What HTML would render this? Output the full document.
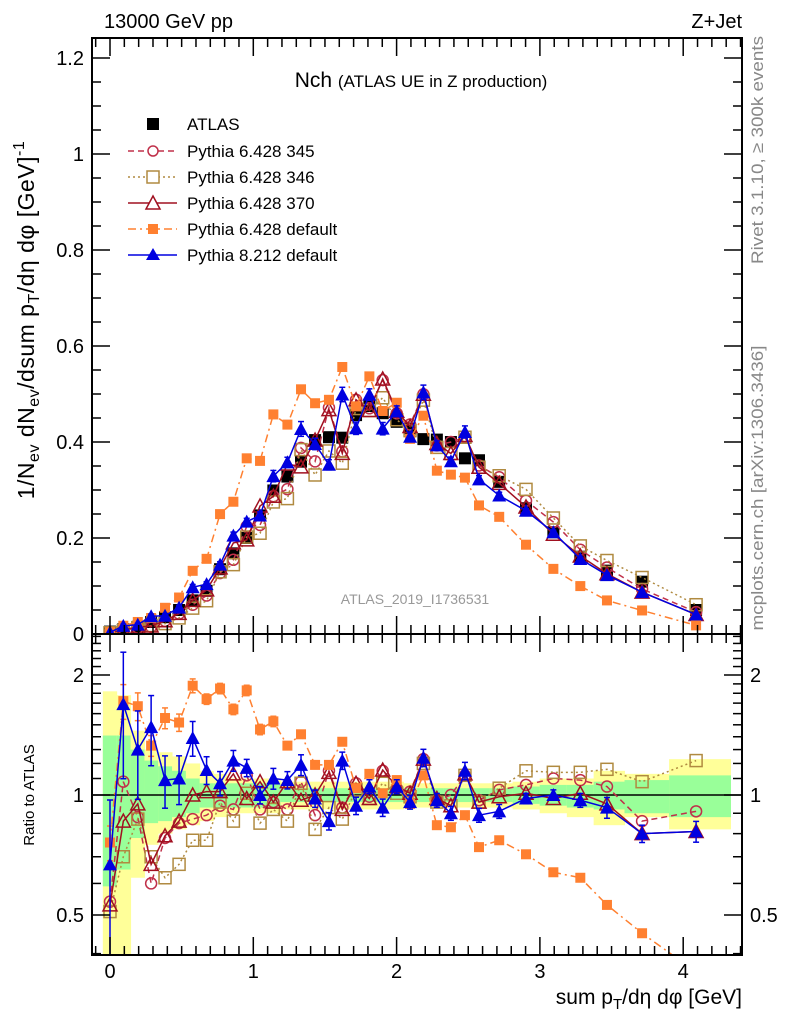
<!DOCTYPE html>
<html><head><meta charset="utf-8"><style>
body{margin:0;background:#fff;}
svg{display:block;font-family:"Liberation Sans",sans-serif;}
</style></head><body>
<svg id="c" width="786" height="1024" xmlns="http://www.w3.org/2000/svg"></svg>
<script>
const xs=[0,0.093,0.194,0.287,0.384,0.482,0.577,0.674,0.768,0.861,0.954,1.047,1.140,1.238,1.333,1.431,1.528,1.621,1.717,1.810,1.903,2.001,2.094,2.187,2.281,2.379,2.477,2.575,2.716,2.903,3.094,3.282,3.468,3.713,4.090];
const atlas=[0.005,0.01,0.015,0.025,0.035,0.05,0.07,0.09,0.135,0.168,0.2,0.247,0.299,0.328,0.359,0.404,0.41,0.409,0.456,0.475,0.46,0.442,0.428,0.406,0.405,0.4,0.366,0.362,0.317,0.262,0.212,0.161,0.132,0.109,0.05];
const rP345=[0.54,1.08,0.88,0.60,0.78,0.85,0.87,0.89,0.94,0.92,1.12,0.92,0.96,0.92,1.08,0.89,1.15,0.93,1.07,0.99,1.15,1.04,1.02,1.23,0.97,1.0,1.12,0.97,1.03,1.06,1.10,1.09,1.05,0.86,0.91];
const rP346=[0.51,0.70,0.87,0.70,0.62,0.67,0.77,0.77,0.96,0.86,1.01,0.85,0.92,0.86,1.07,0.82,0.93,0.87,1.03,0.98,1.07,1.01,0.99,1.2,0.96,0.94,1.12,0.96,1.04,1.15,1.14,1.14,1.16,1.08,1.22];
const rP370=[0.53,0.86,0.95,0.67,0.79,0.86,1.0,1.02,1.02,1.13,0.98,1.08,0.96,1.08,0.97,1.0,1.14,0.92,1.07,0.98,1.155,1.05,1.01,1.23,0.98,0.94,1.13,0.96,0.99,1.01,0.98,1.01,0.95,0.80,0.81];
const rP6def=[0.76,1.72,1.67,1.33,1.56,1.52,1.88,1.74,1.85,1.64,1.83,1.46,1.53,1.33,1.42,1.19,1.19,1.36,1.04,1.13,1.01,1.09,0.95,1.12,0.84,0.83,0.89,0.74,0.77,0.71,0.64,0.62,0.53,0.45,0.36];
const rP8=[0.67,1.69,1.30,1.48,1.09,1.10,1.39,1.155,1.07,1.22,1.17,1.0,1.10,1.09,1.19,0.98,0.86,1.22,0.94,1.05,0.93,1.05,0.96,1.24,0.97,0.90,1.15,0.89,0.91,0.98,1.0,0.97,0.93,0.80,0.81];
const errP8=[0.45,0.35,0.25,0.2,0.15,0.14,0.1,0.08,0.07,0.06,0.05,0.05,0.06,0.05,0.06,0.05,0.05,0.05,0.05,0.04,0.05,0.04,0.04,0.05,0.04,0.04,0.05,0.04,0.04,0.03,0.03,0.04,0.06,0.05,0.06];
const errP6=[0.1,0.1,0.08,0.06,0.06,0.05,0.04,0.03,0.03,0.03,0.03,0.03,0.03,0.02,0.02,0.02,0.02,0.02,0.02,0.02,0.02,0.02,0.02,0.02,0.02,0.02,0.02,0.02,0.02,0.02,0.02,0.02,0.02,0.02,0.02];
const yelHi=[1.82,1.78,1.45,1.3,1.28,1.25,1.2,1.15,1.13,1.1,1.1,1.1,1.1,1.08,1.08,1.08,1.08,1.08,1.08,1.08,1.08,1.08,1.07,1.07,1.07,1.07,1.07,1.07,1.07,1.08,1.1,1.1,1.15,1.13,1.23];
const yelLo=[0.38,0.38,0.62,0.75,0.8,0.82,0.84,0.86,0.88,0.9,0.9,0.9,0.9,0.92,0.92,0.92,0.92,0.92,0.92,0.92,0.92,0.92,0.93,0.93,0.93,0.93,0.93,0.93,0.93,0.92,0.9,0.88,0.84,0.88,0.82];
const grnHi=[1.41,1.41,1.3,1.22,1.18,1.15,1.1,1.07,1.07,1.07,1.07,1.07,1.07,1.04,1.04,1.04,1.04,1.04,1.04,1.04,1.04,1.04,1.04,1.04,1.04,1.04,1.04,1.04,1.04,1.05,1.06,1.06,1.08,1.09,1.12];
const grnLo=[0.59,0.65,0.78,0.85,0.86,0.88,0.9,0.93,0.93,0.93,0.93,0.93,0.93,0.96,0.96,0.96,0.96,0.96,0.96,0.96,0.96,0.96,0.96,0.96,0.96,0.96,0.96,0.96,0.96,0.95,0.94,0.93,0.92,0.9,0.88];
const mainTicks=[0,0.2,0.4,0.6,0.8,1,1.2];
const mainTickLabels=["0","0.2","0.4","0.6","0.8","1","1.2"];
const xTicks=[0,1,2,3,4];
const ratioTicks=[0.5,1,2];
const ratioTickLabels=["0.5","1","2"];

const L=92,R=742,T=38,MB=634,RB=955;
const X=v=>110+v*143.3;
const Y=v=>634-v*480;
const RY=v=>795-Math.log2(v)*120;
const svg=document.getElementById('c');
const NS='http://www.w3.org/2000/svg';
function el(tag,attrs,parent){const e=document.createElementNS(NS,tag);for(const k in attrs)e.setAttribute(k,attrs[k]);(parent||svg).appendChild(e);return e;}
function txt(s,attrs,parent){const e=el('text',attrs,parent);e.textContent=s;return e;}

const defs=el('defs',{});
const cm=el('clipPath',{id:'cm'},defs);el('rect',{x:L,y:T,width:R-L,height:MB-T},cm);
const cr=el('clipPath',{id:'cr'},defs);el('rect',{x:L,y:MB,width:R-L,height:RB-MB},cr);

const gb=el('g',{'clip-path':'url(#cr)'});


for(let i=0;i<xs.length;i++){
  const x0=i==0?-0.05:(xs[i-1]+xs[i])/2, x1=i==xs.length-1?4.33:(xs[i]+xs[i+1])/2;
  const y=el('rect',{x:X(x0),y:RY(yelHi[i]),width:X(x1)-X(x0)+0.5,height:RY(yelLo[i])-RY(yelHi[i]),fill:'#ffff99'},gb);
  
  
  const g=el('rect',{x:X(x0),y:RY(grnHi[i]),width:X(x1)-X(x0)+0.5,height:RY(grnLo[i])-RY(grnHi[i]),fill:'#99ff99'},gb);
  
  
}
el('line',{x1:L,x2:R,y1:RY(1),y2:RY(1),stroke:'#000','stroke-width':1.5});

const series=[
 {name:'pythia-6428-345',r:rP345,color:'#c0304a',dash:'6,4',marker:'circle',label:'Pythia 6.428 345'},
 {name:'pythia-6428-346',r:rP346,color:'#b08a40',dash:'2,3',marker:'square-open',label:'Pythia 6.428 346'},
 {name:'pythia-6428-370',r:rP370,color:'#a01020',dash:'',marker:'tri-open',label:'Pythia 6.428 370'},
 {name:'pythia-6428-default',r:rP6def,color:'#ff8030',dash:'8,4,2,4',marker:'square',label:'Pythia 6.428 default',err:errP6},
 {name:'pythia-8212-default',r:rP8,color:'#0000e0',dash:'',marker:'tri',label:'Pythia 8.212 default',err:errP8},
];
function marker(type,x,y,color,parent,nm){
  let m;
  if(type=='circle')m=el('circle',{cx:x,cy:y,r:5.5,fill:'none',stroke:color,'stroke-width':1.5},parent);
  else if(type=='square-open')m=el('rect',{x:x-6,y:y-6,width:12,height:12,fill:'none',stroke:color,'stroke-width':1.5},parent);
  else if(type=='square')m=el('rect',{x:x-5,y:y-5,width:10,height:10,fill:color},parent);
  else if(type=='squareB')m=el('rect',{x:x-6,y:y-6,width:12,height:12,fill:'#000'},parent);
  else if(type=='tri-open')m=el('polygon',{points:`${x},${y-7} ${x-7},${y+6} ${x+7},${y+6}`,fill:'none',stroke:color,'stroke-width':1.5},parent);
  else m=el('polygon',{points:`${x},${y-7} ${x-7},${y+6} ${x+7},${y+6}`,fill:color},parent);
  
  
}
function drawSeries(s,panel){
  const g=el('g',{'clip-path':panel=='main'?'url(#cm)':'url(#cr)'});
  
  
  const yf=panel=='main'?(i=>Y(atlas[i]*s.r[i])):(i=>RY(s.r[i]));
  const pts=xs.map((x,i)=>X(x)+','+yf(i)).join(' ');
  const pl=el('polyline',{points:pts,fill:'none',stroke:s.color,'stroke-width':1.5,'stroke-dasharray':s.dash},g);
  
  
  xs.forEach((x,i)=>{
    if(s.err){
      let y1,y2;
      if(panel=='main'){const v=atlas[i]*s.r[i];y1=Y(v*(1+s.err[i]*0.6));y2=Y(v*(1-s.err[i]*0.6));}
      else{y1=RY(s.r[i]*(1+s.err[i]));y2=RY(Math.max(0.05,s.r[i]*(1-s.err[i])));}
      el('line',{x1:X(x),x2:X(x),y1:y1,y2:y2,stroke:s.color,'stroke-width':1.5},g);
      el('line',{x1:X(x)-3,x2:X(x)+3,y1:y1,y2:y1,stroke:s.color,'stroke-width':1.5},g);
      el('line',{x1:X(x)-3,x2:X(x)+3,y1:y2,y2:y2,stroke:s.color,'stroke-width':1.5},g);
    }
    marker(s.marker,X(x),yf(i),s.color,g,s.name+'-point');
  });
}
const ga=el('g',{'clip-path':'url(#cm)'});


xs.forEach((x,i)=>marker('squareB',X(x),Y(atlas[i]),'#000',ga,'atlas-point'));
series.forEach(s=>drawSeries(s,'main'));
series.forEach(s=>drawSeries(s,'ratio'));

el('rect',{x:L,y:T,width:R-L,height:MB-T,fill:'none',stroke:'#000','stroke-width':2});
el('rect',{x:L,y:MB,width:R-L,height:RB-MB,fill:'none',stroke:'#000','stroke-width':2});

for(let v=0;v<=1.25;v+=0.05){
  const maj=Math.abs(v/0.2-Math.round(v/0.2))<1e-6, len=maj?18:9, y=Y(v);
  if(y<T)continue;
  el('line',{x1:L,x2:L+len,y1:y,y2:y,stroke:'#000','stroke-width':1.5});
  el('line',{x1:R,x2:R-len,y1:y,y2:y,stroke:'#000','stroke-width':1.5});
}
mainTicks.forEach((v,i)=>{const t=txt(mainTickLabels[i],{x:84,y:Y(v)+7,'text-anchor':'end','font-size':20});
});
for(let k=4;k<=25;k++){
  const v=k/10; const y=RY(v); if(y<MB||y>RB)continue;
  const maj=(k==5||k==10||k==20), len=maj?18:9;
  el('line',{x1:L,x2:L+len,y1:y,y2:y,stroke:'#000','stroke-width':1.5});
  el('line',{x1:R,x2:R-len,y1:y,y2:y,stroke:'#000','stroke-width':1.5});
}
ratioTicks.forEach((v,i)=>{
  const a=txt(ratioTickLabels[i],{x:84,y:RY(v)+7,'text-anchor':'end','font-size':20});
  
  const b=txt(ratioTickLabels[i],{x:750,y:RY(v)+7,'text-anchor':'start','font-size':20});
  
});
for(let k=-1;k<=44;k++){
  const v=k/10, x=X(v); if(x<L||x>R)continue;
  const maj=k%10==0, len=maj?18:9;
  [[MB,1],[T,1],[RB,-1],[MB,-1]].forEach(([y0,d])=>{
    el('line',{x1:x,x2:x,y1:y0,y2:y0+d*len,stroke:'#000','stroke-width':1.5});
  });
}
xTicks.forEach(v=>{const t=txt(String(v),{x:X(v),y:978,'text-anchor':'middle','font-size':20});
});
</script>
<div style="position:absolute;left:0;top:0;width:786px;height:1024px;pointer-events:none">
<svg width="786" height="1024" xmlns="http://www.w3.org/2000/svg" style="font-family:'Liberation Sans',sans-serif">
<text x="104" y="28" font-size="20">13000 GeV pp</text>
<text x="742" y="28" font-size="20" text-anchor="end">Z+Jet</text>
<text x="421" y="87" font-size="21" text-anchor="middle">Nch <tspan font-size="17">(ATLAS UE in Z production)</tspan></text>
<text x="415" y="604" font-size="14" fill="#999" text-anchor="middle">ATLAS_2019_I1736531</text>
<text transform="translate(763,150) rotate(-90)" font-size="17" fill="#888" text-anchor="middle" textLength="228" lengthAdjust="spacingAndGlyphs">Rivet 3.1.10, ≥ 300k events</text>
<text transform="translate(763,488) rotate(-90)" font-size="17" fill="#888" text-anchor="middle" textLength="285" lengthAdjust="spacingAndGlyphs">mcplots.cern.ch [arXiv:1306.3436]</text>
<text transform="translate(34,320) rotate(-90)" font-size="23" letter-spacing="0.5" text-anchor="middle">1/N<tspan font-size="16" dy="5">ev</tspan><tspan dy="-5"> dN</tspan><tspan font-size="16" dy="5">ev</tspan><tspan dy="-5">/dsum p</tspan><tspan font-size="16" dy="5">T</tspan><tspan dy="-5">/dη dφ  [GeV]</tspan><tspan font-size="16" dy="-10">-1</tspan></text>
<text transform="translate(34,795) rotate(-90)" font-size="15" text-anchor="middle">Ratio to ATLAS</text>
<text x="742" y="1004" font-size="21" text-anchor="end">sum p<tspan font-size="15" dy="5">T</tspan><tspan dy="-5">/dη dφ [GeV]</tspan></text>
<g font-size="17">
 <g><rect x="147" y="118" width="12" height="12" fill="#000"/><text x="187" y="130">ATLAS</text></g>
 <g><line x1="128" x2="177" y1="151" y2="151" stroke="#c0304a" stroke-width="1.5" stroke-dasharray="6,4"/><circle cx="153" cy="151" r="5" fill="#fff" stroke="#c0304a" stroke-width="1.5"/><text x="187" y="157">Pythia 6.428 345</text></g>
 <g><line x1="128" x2="177" y1="177" y2="177" stroke="#b08a40" stroke-width="1.5" stroke-dasharray="2,3"/><rect x="147" y="171" width="12" height="12" fill="#fff" stroke="#b08a40" stroke-width="1.5"/><text x="187" y="183">Pythia 6.428 346</text></g>
 <g><line x1="128" x2="177" y1="203" y2="203" stroke="#a01020" stroke-width="1.5"/><polygon points="153,196 146,209 160,209" fill="#fff" stroke="#a01020" stroke-width="1.5"/><text x="187" y="209">Pythia 6.428 370</text></g>
 <g><line x1="128" x2="177" y1="229" y2="229" stroke="#ff8030" stroke-width="1.5" stroke-dasharray="8,4,2,4"/><rect x="148" y="224" width="10" height="10" fill="#ff8030"/><text x="187" y="235">Pythia 6.428 default</text></g>
 <g><line x1="128" x2="177" y1="255" y2="255" stroke="#0000e0" stroke-width="1.5"/><polygon points="153,248 146,260 160,260" fill="#0000e0"/><text x="187" y="261">Pythia 8.212 default</text></g>
</g>
</svg></div>
</body></html>
